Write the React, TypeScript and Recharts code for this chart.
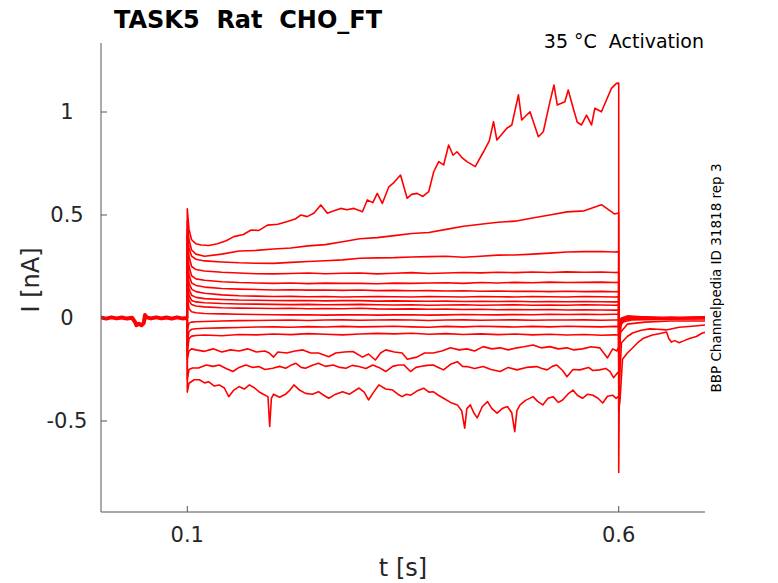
import React from 'react';
import { LineChart, Line, XAxis, YAxis } from 'recharts';

// time axis ticks [s] and current axis ticks [nA]
const xTicks = [0.1, 0.6];
const yTicks = [-0.5, 0, 0.5, 1];

// holding period before the step, all sweeps overlap here
const preT = [0, 0.006, 0.012, 0.018, 0.024, 0.03, 0.036, 0.0395, 0.041, 0.044, 0.047, 0.0495, 0.051, 0.053, 0.058, 0.064, 0.07, 0.076, 0.082, 0.088, 0.094, 0.1];
const preI = [0.002, -0.003, 0.003, -0.002, 0.002, -0.003, 0.001, -0.02, -0.035, -0.028, -0.035, -0.025, 0.014, 0.003, -0.002, 0.003, -0.002, 0.002, -0.003, 0.003, -0.002, 0];

// shared time grid for the quieter sweeps (step on at 0.1, off at 0.6)
const tFlat = [0.1, 0.1, 0.102, 0.105, 0.11, 0.12, 0.14, 0.16, 0.18, 0.2, 0.22, 0.24, 0.26, 0.28, 0.3, 0.32, 0.34, 0.36, 0.38, 0.4, 0.42, 0.44, 0.46, 0.48, 0.5, 0.52, 0.54, 0.56, 0.58, 0.595, 0.6, 0.6, 0.602, 0.606, 0.615, 0.63, 0.66, 0.7];

const sweep1 = [0, 0.47, 0.38, 0.33, 0.31, 0.3, 0.31, 0.325, 0.328, 0.335, 0.34, 0.35, 0.356, 0.37, 0.385, 0.39, 0.4, 0.41, 0.415, 0.43, 0.445, 0.455, 0.465, 0.47, 0.485, 0.5, 0.515, 0.52, 0.55, 0.505, 0.51, -0.25, -0.04, -0.01, 0, 0.005, 0, 0.005];
const sweep2 = [0, 0.43, 0.34, 0.3, 0.285, 0.277, 0.272, 0.268, 0.266, 0.265, 0.27, 0.274, 0.278, 0.282, 0.29, 0.292, 0.293, 0.296, 0.298, 0.3, 0.295, 0.3, 0.305, 0.306, 0.31, 0.315, 0.32, 0.322, 0.323, 0.32, 0.322, -0.2, -0.035, -0.01, 0, 0, 0.005, 0];
const sweep3 = [0, 0.4, 0.3, 0.25, 0.235, 0.228, 0.222, 0.218, 0.215, 0.214, 0.216, 0.218, 0.215, 0.217, 0.218, 0.214, 0.217, 0.22, 0.216, 0.218, 0.221, 0.219, 0.222, 0.22, 0.223, 0.221, 0.224, 0.222, 0.223, 0.221, 0.222, -0.17, -0.03, -0.01, 0, 0.003, 0, 0.004];
const sweep4 = [0, 0.36, 0.25, 0.205, 0.19, 0.183, 0.176, 0.172, 0.17, 0.168, 0.17, 0.167, 0.169, 0.168, 0.168, 0.166, 0.169, 0.168, 0.17, 0.171, 0.168, 0.172, 0.17, 0.173, 0.171, 0.174, 0.172, 0.173, 0.174, 0.172, 0.173, -0.14, -0.025, -0.008, 0, 0.002, 0, 0.003];
const sweep5 = [0, 0.32, 0.21, 0.17, 0.158, 0.15, 0.143, 0.14, 0.138, 0.136, 0.137, 0.135, 0.136, 0.134, 0.136, 0.133, 0.134, 0.132, 0.133, 0.131, 0.132, 0.13, 0.131, 0.129, 0.13, 0.128, 0.13, 0.128, 0.129, 0.127, 0.128, -0.12, -0.02, -0.006, 0, 0.002, 0, 0.002];
const sweep6 = [0, 0.28, 0.17, 0.14, 0.128, 0.12, 0.112, 0.108, 0.106, 0.104, 0.105, 0.103, 0.104, 0.102, 0.103, 0.104, 0.103, 0.102, 0.104, 0.103, 0.102, 0.104, 0.103, 0.102, 0.104, 0.103, 0.102, 0.104, 0.103, 0.102, 0.103, -0.1, -0.02, -0.005, 0, 0.001, 0, 0.002];
const sweep7 = [0, 0.24, 0.14, 0.11, 0.1, 0.094, 0.09, 0.087, 0.086, 0.085, 0.084, 0.085, 0.083, 0.084, 0.084, 0.082, 0.083, 0.082, 0.081, 0.082, 0.08, 0.081, 0.08, 0.081, 0.079, 0.08, 0.079, 0.08, 0.079, 0.078, 0.079, -0.08, -0.015, -0.004, 0, 0.001, 0, 0.001];
const sweep8 = [0, 0.2, 0.11, 0.085, 0.078, 0.074, 0.07, 0.068, 0.067, 0.066, 0.065, 0.066, 0.064, 0.065, 0.066, 0.064, 0.063, 0.064, 0.062, 0.063, 0.064, 0.062, 0.063, 0.064, 0.062, 0.063, 0.062, 0.064, 0.063, 0.062, 0.063, -0.06, -0.012, -0.003, 0, 0, 0, 0.001];
const sweep9 = [0, 0.16, 0.085, 0.065, 0.058, 0.054, 0.05, 0.048, 0.047, 0.046, 0.047, 0.045, 0.046, 0.045, 0.047, 0.044, 0.043, 0.044, 0.042, 0.043, 0.041, 0.042, 0.04, 0.041, 0.04, 0.041, 0.039, 0.04, 0.039, 0.038, 0.039, -0.045, -0.01, -0.003, 0, 0, 0, 0.001];
const sweep10 = [0, 0.1, 0.045, 0.03, 0.025, 0.022, 0.02, 0.018, 0.017, 0.016, 0.015, 0.016, 0.014, 0.015, 0.016, 0.014, 0.015, 0.016, 0.014, 0.015, 0.017, 0.016, 0.015, 0.017, 0.016, 0.018, 0.017, 0.018, 0.017, 0.018, 0.018, -0.02, -0.006, -0.002, 0, 0, 0, 0];
const sweep11 = [0, -0.06, -0.025, -0.02, -0.018, -0.017, -0.015, -0.013, -0.012, -0.011, -0.01, -0.012, -0.01, -0.009, -0.011, -0.01, -0.009, -0.01, -0.012, -0.01, -0.009, -0.011, -0.01, -0.009, -0.011, -0.01, -0.01, -0.009, -0.011, -0.01, -0.01, -0.005, -0.004, -0.003, -0.002, -0.002, -0.001, -0.001];
const sweep12 = [0, -0.12, -0.065, -0.055, -0.052, -0.05, -0.048, -0.046, -0.044, -0.043, -0.045, -0.042, -0.044, -0.041, -0.043, -0.042, -0.04, -0.043, -0.045, -0.041, -0.043, -0.04, -0.042, -0.044, -0.041, -0.043, -0.04, -0.042, -0.043, -0.041, -0.042, -0.02, -0.012, -0.008, -0.006, -0.004, -0.003, -0.002];
const sweep13 = [0, -0.17, -0.1, -0.088, -0.085, -0.083, -0.086, -0.08, -0.082, -0.078, -0.081, -0.076, -0.079, -0.082, -0.078, -0.075, -0.077, -0.074, -0.079, -0.076, -0.08, -0.077, -0.081, -0.078, -0.082, -0.079, -0.083, -0.08, -0.084, -0.082, -0.083, -0.05, -0.03, -0.018, -0.01, -0.008, -0.006, -0.005];

// noisy sweeps, read as [t, I] pairs
const sweepTop = [
  [0.1, 0], [0.1, 0.53], [0.102, 0.43], [0.105, 0.38], [0.11, 0.36], [0.116, 0.354], [0.125, 0.352], [0.135, 0.36],
  [0.145, 0.375], [0.154, 0.395], [0.165, 0.405], [0.174, 0.427], [0.183, 0.425], [0.193, 0.451], [0.205, 0.455],
  [0.216, 0.468], [0.225, 0.48], [0.2316, 0.5], [0.239, 0.492], [0.247, 0.51], [0.2547, 0.549], [0.2624, 0.508],
  [0.27, 0.52], [0.2778, 0.532], [0.285, 0.525], [0.2932, 0.532], [0.303, 0.516], [0.3086, 0.573], [0.315, 0.56],
  [0.3202, 0.605], [0.326, 0.556], [0.3336, 0.637], [0.34, 0.66], [0.3471, 0.694], [0.3548, 0.581], [0.36, 0.6],
  [0.3664, 0.605], [0.373, 0.59], [0.3798, 0.613], [0.3856, 0.71], [0.3914, 0.759], [0.3971, 0.743], [0.4029, 0.84],
  [0.408, 0.79], [0.4126, 0.807], [0.418, 0.78], [0.4241, 0.759], [0.4337, 0.735], [0.4433, 0.807], [0.45, 0.86],
  [0.4549, 0.953], [0.4588, 0.864], [0.464, 0.89], [0.4703, 0.921], [0.4761, 0.937], [0.4838, 1.083], [0.4876, 0.961],
  [0.4972, 1.001], [0.5069, 0.88], [0.5126, 0.904], [0.5203, 1.05], [0.525, 1.131], [0.5288, 1.034], [0.5376, 1.05],
  [0.5415, 1.107], [0.5473, 1.018], [0.552, 0.95], [0.5569, 0.937], [0.5627, 0.985], [0.5685, 0.937], [0.5723, 1.018],
  [0.58, 1.001], [0.5858, 1.058], [0.5916, 1.115], [0.5974, 1.139], [0.6, 1.14], [0.6, -0.75], [0.601, -0.15],
  [0.603, 0], [0.61, 0.01], [0.63, 0.005], [0.66, 0], [0.7, 0.005],
];

const sweep14 = [
  [0.1, 0], [0.1, -0.2], [0.102, -0.16], [0.105, -0.15], [0.11, -0.155], [0.12, -0.162], [0.13, -0.15], [0.14, -0.165],
  [0.15, -0.155], [0.16, -0.16], [0.17, -0.15], [0.18, -0.165], [0.19, -0.16], [0.195, -0.17], [0.2, -0.19], [0.205, -0.165],
  [0.215, -0.17], [0.225, -0.16], [0.234, -0.155], [0.243, -0.17], [0.252, -0.17], [0.264, -0.188], [0.272, -0.17],
  [0.282, -0.165], [0.292, -0.163], [0.303, -0.19], [0.31, -0.175], [0.318, -0.204], [0.324, -0.17], [0.33, -0.155],
  [0.34, -0.165], [0.349, -0.17], [0.355, -0.2], [0.366, -0.19], [0.375, -0.17], [0.385, -0.17], [0.395, -0.16],
  [0.405, -0.145], [0.415, -0.155], [0.424, -0.15], [0.433, -0.16], [0.443, -0.139], [0.453, -0.15], [0.4626, -0.145],
  [0.472, -0.155], [0.482, -0.145], [0.49, -0.14], [0.5007, -0.131], [0.51, -0.145], [0.5203, -0.139], [0.53, -0.15],
  [0.54, -0.145], [0.548, -0.155], [0.558, -0.15], [0.568, -0.14], [0.578, -0.145], [0.587, -0.194], [0.593, -0.15],
  [0.598, -0.16], [0.6, -0.14], [0.6, -0.16], [0.602, -0.07], [0.61, -0.03], [0.63, -0.02], [0.66, -0.015], [0.7, -0.015],
];

const sweep15 = [
  [0.1, 0], [0.1, -0.3], [0.102, -0.25], [0.106, -0.243], [0.113, -0.243], [0.122, -0.228], [0.13, -0.235], [0.137, -0.228],
  [0.145, -0.245], [0.153, -0.26], [0.16, -0.24], [0.168, -0.228], [0.176, -0.24], [0.183, -0.236], [0.19, -0.25],
  [0.199, -0.244], [0.207, -0.235], [0.214, -0.244], [0.22, -0.23], [0.226, -0.22], [0.232, -0.24], [0.237, -0.244],
  [0.245, -0.23], [0.252, -0.22], [0.26, -0.235], [0.269, -0.228], [0.277, -0.24], [0.284, -0.244], [0.291, -0.23],
  [0.299, -0.236], [0.307, -0.245], [0.315, -0.228], [0.322, -0.24], [0.33, -0.26], [0.338, -0.235], [0.345, -0.228],
  [0.351, -0.228], [0.3587, -0.26], [0.365, -0.24], [0.37, -0.236], [0.378, -0.23], [0.385, -0.228], [0.391, -0.24],
  [0.397, -0.252], [0.405, -0.225], [0.413, -0.212], [0.419, -0.235], [0.424, -0.236], [0.433, -0.245], [0.443, -0.236],
  [0.452, -0.25], [0.4626, -0.26], [0.472, -0.24], [0.482, -0.252], [0.493, -0.24], [0.505, -0.236], [0.511, -0.245],
  [0.517, -0.252], [0.523, -0.235], [0.528, -0.228], [0.535, -0.255], [0.54, -0.285], [0.547, -0.25], [0.555, -0.252],
  [0.565, -0.24], [0.57, -0.255], [0.578, -0.252], [0.585, -0.245], [0.59, -0.26], [0.594, -0.29], [0.598, -0.27],
  [0.6, -0.26], [0.6, -0.32], [0.601, -0.3], [0.6032, -0.12], [0.61, -0.09], [0.616, -0.073], [0.626, -0.06],
  [0.636, -0.053], [0.645, -0.055], [0.655, -0.058], [0.67, -0.045], [0.685, -0.04], [0.7, -0.034],
];

const sweepBottom = [
  [0.1, 0], [0.1, -0.36], [0.102, -0.317], [0.108, -0.3], [0.114, -0.3], [0.12, -0.315], [0.125, -0.31], [0.131, -0.33],
  [0.137, -0.325], [0.143, -0.34], [0.148, -0.382], [0.154, -0.35], [0.16, -0.333], [0.166, -0.345], [0.172, -0.325],
  [0.178, -0.34], [0.183, -0.358], [0.188, -0.37], [0.1935, -0.382], [0.1955, -0.527], [0.1975, -0.39], [0.2, -0.37],
  [0.207, -0.385], [0.214, -0.37], [0.219, -0.35], [0.2236, -0.325], [0.23, -0.35], [0.237, -0.366], [0.245, -0.37],
  [0.252, -0.358], [0.258, -0.375], [0.264, -0.39], [0.272, -0.37], [0.28, -0.358], [0.288, -0.37], [0.299, -0.34],
  [0.305, -0.36], [0.31, -0.398], [0.316, -0.36], [0.322, -0.325], [0.33, -0.345], [0.338, -0.35], [0.344, -0.37],
  [0.349, -0.382], [0.354, -0.37], [0.359, -0.375], [0.366, -0.355], [0.374, -0.341], [0.38, -0.36], [0.385, -0.358],
  [0.391, -0.375], [0.397, -0.39], [0.405, -0.41], [0.413, -0.422], [0.418, -0.45], [0.4215, -0.535], [0.424, -0.44],
  [0.428, -0.422], [0.432, -0.46], [0.436, -0.485], [0.442, -0.43], [0.448, -0.406], [0.453, -0.44], [0.459, -0.462],
  [0.465, -0.44], [0.471, -0.43], [0.476, -0.46], [0.4795, -0.552], [0.482, -0.45], [0.4857, -0.422], [0.492, -0.4],
  [0.5007, -0.382], [0.506, -0.405], [0.512, -0.422], [0.518, -0.39], [0.524, -0.382], [0.53, -0.41], [0.535, -0.398],
  [0.541, -0.37], [0.547, -0.35], [0.552, -0.375], [0.558, -0.39], [0.564, -0.37], [0.57, -0.375], [0.576, -0.39],
  [0.5815, -0.413], [0.587, -0.38], [0.593, -0.375], [0.597, -0.39], [0.6, -0.38], [0.6, -0.45], [0.6015, -0.4],
  [0.6044, -0.2], [0.61, -0.17], [0.616, -0.146], [0.622, -0.12], [0.628, -0.1], [0.639, -0.083], [0.648, -0.075],
  [0.6555, -0.068], [0.658, -0.1], [0.661, -0.117], [0.665, -0.11], [0.67, -0.12], [0.676, -0.11], [0.682, -0.1],
  [0.69, -0.09], [0.697, -0.073], [0.7, -0.07],
];

const flatSweeps = [sweep1, sweep2, sweep3, sweep4, sweep5, sweep6, sweep7, sweep8, sweep9, sweep10, sweep11, sweep12, sweep13];
const pairSweeps = [sweepTop, sweep14, sweep15, sweepBottom];

const W = 778;
const H = 583;
const PLOT_LEFT = 101;
const PLOT_TOP = 43;
const PLOT_RIGHT = 705;
const PLOT_BOTTOM = 512;
const FONT = '"DejaVu Sans", sans-serif';
const INK = '#262626';
const RED = '#ff0000';

const zip = (ts: number[], vs: number[]) => ts.map((t, k) => ({ t, v: vs[k] }));
const fromPairs = (ps: number[][]) => ps.map(([t, v]) => ({ t, v }));

const YTick = (props: any) => {
  const { y, payload } = props;
  return (
    <g>
      <line x1={PLOT_LEFT} x2={PLOT_LEFT + 6} y1={y} y2={y} stroke="#555" strokeWidth={1} />
      <text x={67} y={y + 7} textAnchor="middle" fontFamily={FONT} fontSize={21} fill={INK}>
        {String(payload.value)}
      </text>
    </g>
  );
};

const XTick = (props: any) => {
  const { x, payload } = props;
  return (
    <g>
      <line x1={x} x2={x} y1={PLOT_BOTTOM} y2={PLOT_BOTTOM - 6} stroke="#555" strokeWidth={1} />
      <text x={x} y={542} textAnchor="middle" fontFamily={FONT} fontSize={21} fill={INK}>
        {String(payload.value)}
      </text>
    </g>
  );
};

export default function App() {
  const lines = [
    zip(preT, preI),
    ...flatSweeps.map((s) => zip(tFlat, s)),
    ...pairSweeps.map(fromPairs),
  ];

  return (
    <div style={{ position: 'absolute', left: 0, top: 0, width: W, height: H, background: '#fff' }}>
      <LineChart
        width={W}
        height={H}
        margin={{ top: PLOT_TOP, right: W - PLOT_RIGHT, bottom: H - PLOT_BOTTOM - 40, left: PLOT_LEFT - 60 }}
      >
        <XAxis
          type="number"
          dataKey="t"
          domain={[0, 0.7]}
          ticks={xTicks}
          height={40}
          allowDataOverflow
          axisLine={{ stroke: '#555', strokeWidth: 1 }}
          tickLine={false}
          tick={<XTick />}
        />
        <YAxis
          type="number"
          dataKey="v"
          domain={[-0.942, 1.335]}
          ticks={yTicks}
          width={60}
          allowDataOverflow
          axisLine={{ stroke: '#555', strokeWidth: 1 }}
          tickLine={false}
          tick={<YTick />}
        />
        {lines.map((d, k) => (
          <Line
            key={k}
            data={d}
            dataKey="v"
            type="linear"
            stroke={RED}
            strokeWidth={k === 0 ? 4 : 1.6}
            strokeLinejoin="round"
            dot={false}
            activeDot={false}
            isAnimationActive={false}
          />
        ))}
      </LineChart>

      <svg width={W} height={H} style={{ position: 'absolute', left: 0, top: 0, pointerEvents: 'none' }}>
        <text x={114} y={28} fontFamily={FONT} fontSize={24} fontWeight="bold" fill="#000" style={{ whiteSpace: 'pre' }}>
          {'TASK5  Rat  CHO_FT'}
        </text>
        <text x={704} y={48} textAnchor="end" fontFamily={FONT} fontSize={19} fill="#000" style={{ whiteSpace: 'pre' }}>
          {'35 °C  Activation'}
        </text>
        <text x={403} y={576} textAnchor="middle" fontFamily={FONT} fontSize={24} fill={INK}>
          t [s]
        </text>
        <text transform="translate(39,280) rotate(-90)" textAnchor="middle" fontFamily={FONT} fontSize={24} fill={INK}>
          I [nA]
        </text>
        <text transform="translate(721,278) rotate(-90)" textAnchor="middle" fontFamily={FONT} fontSize={13.5} fill="#000">
          BBP Channelpedia ID 31818 rep 3
        </text>
      </svg>
    </div>
  );
}
